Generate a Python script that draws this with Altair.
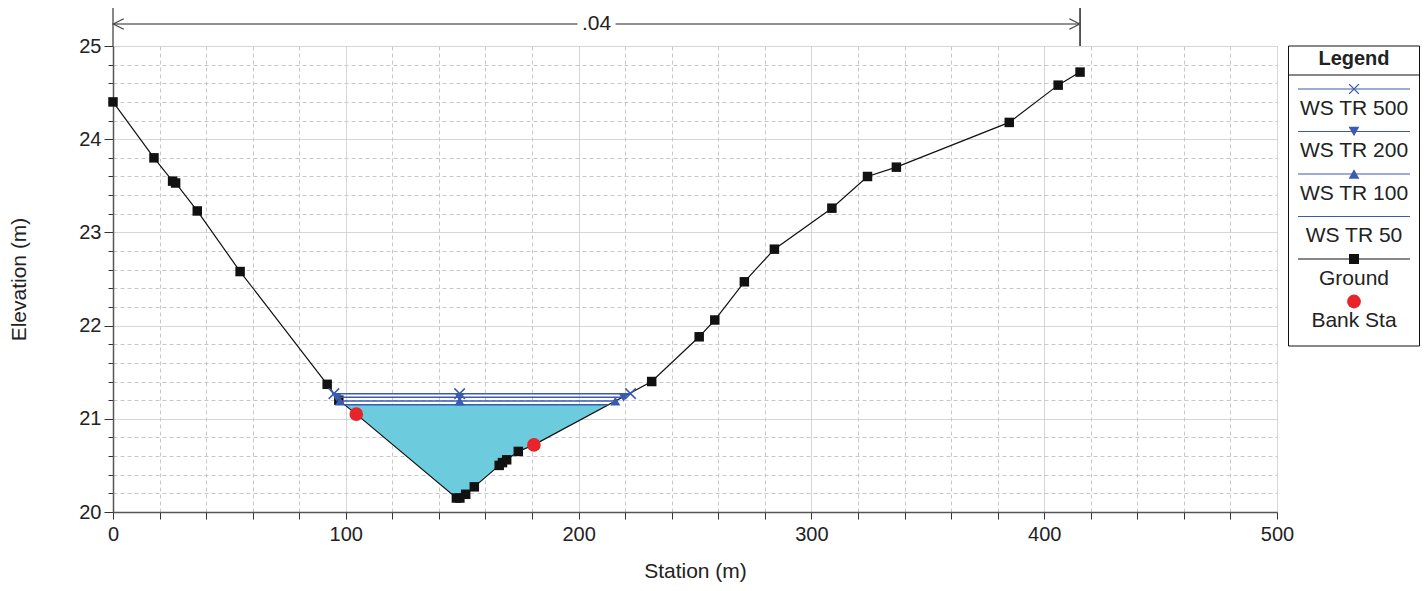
import altair as alt
import pandas as pd

FONT = "Liberation Sans"
BLUE = "#3a5bb0"
WATER = "#6ccbdc"
RED = "#e8232a"

# ---------------- data ----------------
ground_station = [0, 17.6, 25.6, 26.9, 36.2, 54.6, 92.0, 97.0, 104.5, 147.5, 149.0,
                  151.5, 155.2, 165.9, 167.3, 169.1, 174.1, 180.8, 231.4, 251.8, 258.5,
                  271.2, 284.1, 308.8, 324.1, 336.5, 385.0, 406.0, 415.4]
ground_elev = [24.40, 23.80, 23.55, 23.53, 23.23, 22.58, 21.37, 21.20, 21.05, 20.15, 20.15,
               20.19, 20.27, 20.50, 20.53, 20.56, 20.65, 20.72, 21.40, 21.88, 22.06,
               22.47, 22.82, 23.26, 23.60, 23.70, 24.18, 24.58, 24.72]

bank_station = [104.5, 180.8]
bank_elev = [21.05, 20.72]

ws_names = ["WS TR 500", "WS TR 200", "WS TR 100", "WS TR 50"]
ws_elev = [21.27, 21.23, 21.19, 21.15]
ws_left = [94.9, 96.1, 97.5, 99.5]
ws_mid = [148.9, 148.9, 148.9, 148.9]
ws_right = [222.3, 219.3, 215.8, 212.8]
ws_marker = ["x", "down", "up", "none"]

n_label = ".04"

legend_names = ["WS TR 500", "WS TR 200", "WS TR 100", "WS TR 50", "Ground", "Bank Sta"]

x_ticks = list(range(0, 501, 20))
y_ticks = [round(20 + 0.2 * i, 1) for i in range(26)]

# ---------------- tables ----------------
ground_df = pd.DataFrame({"station": ground_station, "elev": ground_elev})
bank_df = pd.DataFrame({"station": bank_station, "elev": bank_elev})
ws_df = pd.DataFrame({"name": ws_names, "elev": ws_elev, "left": ws_left,
                      "mid": ws_mid, "right": ws_right, "marker": ws_marker})
ws_pts = ws_df.melt(id_vars=["name", "elev", "marker"], value_vars=["left", "mid", "right"],
                    value_name="station")

low = ws_df.iloc[-1]
fill_rows = [(low["left"], low["elev"])]
fill_rows += [(s, e) for s, e in zip(ground_station, ground_elev) if low["left"] < s < low["right"]]
fill_rows += [(low["right"], low["elev"])]
fill_df = pd.DataFrame(fill_rows, columns=["station", "elev"])
fill_df["top"] = low["elev"]

ann_df = pd.DataFrame({"start": [min(ground_station)], "end": [max(ground_station)],
                       "mid": [(min(ground_station) + max(ground_station)) / 2],
                       "label": [n_label]})
ann_ends = pd.DataFrame({"station": [min(ground_station), max(ground_station)],
                         "col": ["#6a6a6a", "#333333"]})

# ---------------- scales and axes ----------------
MAJOR_Y = "abs(datum.value - round(datum.value)) < 1e-6"
MAJOR_X = "datum.value % 100 === 0"

xs = alt.Scale(domain=[0, 500], nice=False, zero=False)
ys = alt.Scale(domain=[20, 25], nice=False, zero=False)

x_axis = alt.Axis(
    values=x_ticks, title="Station (m)",
    labelExpr=f"{MAJOR_X} ? format(datum.value, 'd') : ''",
    labelFlush=False, labelOverlap=False,
    grid=True, gridColor="#c8c8c8", gridWidth=1,
    gridDash={"condition": {"test": MAJOR_X, "value": [1, 0]}, "value": [4, 3]},
    tickSize=7, tickColor="#333333", tickWidth=1,
    domainColor="#555555", domainWidth=1.5,
    labelFont=FONT, labelFontSize=20, labelColor="#222222", labelPadding=5,
    titleFont=FONT, titleFontSize=21, titleFontWeight="normal", titleColor="#222222",
    titleY=65, titleBaseline="alphabetic",
)
y_axis = alt.Axis(
    values=y_ticks, title="Elevation (m)",
    labelExpr=f"{MAJOR_Y} ? format(datum.value, 'd') : ''",
    labelOverlap=False, labelFlush=False,
    grid=True, gridColor="#c8c8c8", gridWidth=1,
    gridDash={"condition": {"test": MAJOR_Y, "value": [1, 0]}, "value": [4, 3]},
    tickSize={"condition": {"test": MAJOR_Y, "value": 9}, "value": 5},
    tickColor="#333333", tickWidth=1,
    domainColor="#555555", domainWidth=1.5,
    labelFont=FONT, labelFontSize=20, labelColor="#222222", labelPadding=3,
    titleFont=FONT, titleFontSize=21, titleFontWeight="normal", titleColor="#222222",
    titleX=-94, titleY=233, titleAngle=-90, titleAlign="center", titleBaseline="middle",
)


def X(f):
    return alt.X(f, type="quantitative", scale=xs, axis=x_axis)


def Y(f):
    return alt.Y(f, type="quantitative", scale=ys, axis=y_axis)


fill = alt.Chart(fill_df).mark_area(color=WATER, opacity=1).encode(
    x=X("station"), y=Y("elev"), y2="top")

ground_line = alt.Chart(ground_df).mark_line(color="#111111", strokeWidth=1.2).encode(
    x=X("station"), y=Y("elev"), order="station:Q")
ground_pts = alt.Chart(ground_df).mark_point(shape="square", filled=True, color="#111111",
                                             size=90, opacity=1).encode(
    x=X("station"), y=Y("elev"))

ws_lines = alt.Chart(ws_df).mark_rule(color=BLUE, strokeWidth=1.5).encode(
    x=X("left"), x2="right", y=Y("elev"))

XPATH = "M -1 -1 L 1 1 M -1 1 L 1 -1"
ws_x = alt.Chart(ws_pts).transform_filter("datum.marker === 'x'").mark_point(
    shape=XPATH, filled=False, color=BLUE, strokeWidth=1.5, size=110, opacity=1).encode(
    x=X("station"), y=Y("elev"))
ws_down = alt.Chart(ws_pts).transform_filter("datum.marker === 'down'").mark_point(
    shape="triangle-down", filled=True, color=BLUE, size=100, opacity=1).encode(
    x=X("station"), y=Y("elev"))
ws_up = alt.Chart(ws_pts).transform_filter("datum.marker === 'up'").mark_point(
    shape="triangle-up", filled=True, color=BLUE, size=100, opacity=1).encode(
    x=X("station"), y=Y("elev"))

bank = alt.Chart(bank_df).mark_point(shape="circle", filled=True, color=RED, size=185,
                                     opacity=1).encode(x=X("station"), y=Y("elev"))

# n-value annotation above the plot
ann_v = alt.Chart(ann_ends).mark_rule(strokeWidth=1.6).encode(
    x=X("station"), y=alt.value(-45), y2=alt.value(0),
    color=alt.Color("col:N", scale=None))
ann_line = alt.Chart(ann_df).mark_rule(color="#6e6e6e", strokeWidth=1.5).encode(
    x=X("start"), x2="end", y=alt.value(-22))
ann_l = alt.Chart(ann_df).mark_point(shape="M 1 -1 L -1 0 L 1 1", filled=False,
                                     color="#444444", strokeWidth=1.2, size=110,
                                     opacity=1, xOffset=5.5).encode(
    x=X("start"), y=alt.value(-22))
ann_r = alt.Chart(ann_df).mark_point(shape="M -1 -1 L 1 0 L -1 1", filled=False,
                                     color="#444444", strokeWidth=1.2, size=110,
                                     opacity=1, xOffset=-5.5).encode(
    x=X("end"), y=alt.value(-22))
ann_box = alt.Chart(ann_df).mark_point(shape="M -1 -0.5 L 1 -0.5 L 1 0.5 L -1 0.5 Z",
                                       filled=True, color="white", size=1450,
                                       opacity=1).encode(
    x=X("mid"), y=alt.value(-22))
ann_txt = alt.Chart(ann_df).mark_text(font=FONT, fontSize=21, color="#222222",
                                      baseline="middle", align="center").encode(
    x=X("mid"), y=alt.value(-22), text="label:N")

main = alt.layer(fill, ground_line, ground_pts, ws_lines, ws_x, ws_down, ws_up, bank,
                 ann_v, ann_line, ann_l, ann_r, ann_box, ann_txt)

# ---------------- custom legend box ----------------
leg = pd.DataFrame({"name": legend_names,
                    "ly": [43 + 42.5 * i for i in range(len(legend_names))]})
leg["lt"] = leg["ly"] + 19.5
leg["kind"] = ["ws", "ws", "ws", "ws", "ground", "bank"]
LY = alt.Scale(domain=[0, 466], range=[0, 466], nice=False, zero=False)
one = pd.DataFrame({"a": [0]})
LX0, LX1, LXC = 1175.5, 1306.5, 1241

leg_box = alt.Chart(one).mark_rect(fill="white", stroke="#111111", strokeWidth=1).encode(
    x=alt.value(LX0), x2=alt.value(LX1), y=alt.value(0), y2=alt.value(300))
leg_sep = alt.Chart(one).mark_rule(color="#111111", strokeWidth=1).encode(
    x=alt.value(LX0), x2=alt.value(LX1), y=alt.value(29))
leg_title = alt.Chart(one).mark_text(font=FONT, fontSize=20, fontWeight="bold",
                                     color="#222222", baseline="middle").encode(
    x=alt.value(LXC), y=alt.value(13), text=alt.value("Legend"))


def LYe(f):
    return alt.Y(f, type="quantitative", scale=LY, axis=None)


leg_ws = alt.Chart(leg).transform_filter("datum.kind === 'ws'").mark_rule(
    color=BLUE, strokeWidth=1.2).encode(x=alt.value(1185), x2=alt.value(1297), y=LYe("ly"))
leg_gr = alt.Chart(leg).transform_filter("datum.kind === 'ground'").mark_rule(
    color="#111111", strokeWidth=1.2).encode(x=alt.value(1185), x2=alt.value(1297), y=LYe("ly"))
leg_x = alt.Chart(leg).transform_filter("datum.name === 'WS TR 500'").mark_point(
    shape=XPATH, filled=False, color=BLUE, strokeWidth=1.4, size=95, opacity=1).encode(
    x=alt.value(LXC), y=LYe("ly"))
leg_dn = alt.Chart(leg).transform_filter("datum.name === 'WS TR 200'").mark_point(
    shape="triangle-down", filled=True, color=BLUE, size=115, opacity=1).encode(
    x=alt.value(LXC), y=LYe("ly"))
leg_up = alt.Chart(leg).transform_filter("datum.name === 'WS TR 100'").mark_point(
    shape="triangle-up", filled=True, color=BLUE, size=115, opacity=1).encode(
    x=alt.value(LXC), y=LYe("ly"))
leg_sq = alt.Chart(leg).transform_filter("datum.kind === 'ground'").mark_point(
    shape="square", filled=True, color="#111111", size=100, opacity=1).encode(
    x=alt.value(LXC), y=LYe("ly"))
leg_bk = alt.Chart(leg).transform_filter("datum.kind === 'bank'").mark_point(
    shape="circle", filled=True, color=RED, size=190, opacity=1).encode(
    x=alt.value(LXC), y=LYe("ly"))
leg_txt = alt.Chart(leg).mark_text(font=FONT, fontSize=21, color="#222222",
                                   baseline="middle", align="center").encode(
    x=alt.value(LXC), y=LYe("lt"), text="name:N")

legend = alt.layer(leg_box, leg_sep, leg_title, leg_ws, leg_gr, leg_x, leg_dn, leg_up,
                   leg_sq, leg_bk, leg_txt)

chart = alt.layer(main, legend).resolve_scale(y="independent").properties(
    width=1164, height=466,
    autosize=alt.AutoSizeParams(type="none"),
    padding={"left": 105, "top": 38, "right": 143, "bottom": 71},
    background="white",
).configure_view(stroke=None)

chart.save("out.html", embed_options={"renderer": "svg", "actions": False})
